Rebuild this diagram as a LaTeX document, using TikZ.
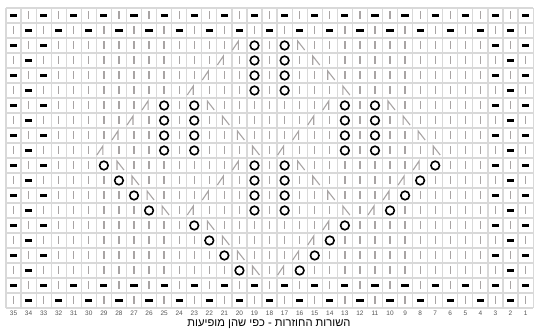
\documentclass[tikz,border=0pt]{standalone}
\usepackage{fontspec}
\setmainfont{Liberation Sans}
\newfontfamily\hebfont[Script=Hebrew]{Liberation Sans}
\TeXXeTstate=1
\definecolor{gridc}{HTML}{D9D9D9}
\definecolor{stc}{HTML}{A8A4A4}
\definecolor{numc}{HTML}{555555}
\tikzset{
  gridline/.style={draw=gridc, line width=1.2pt},
  knit/.style={draw=stc, line width=1.3pt},
  purl/.style={draw=black, line width=2.6pt},
  yo/.style={draw=black, line width=1.6pt},
  dec/.style={draw=stc, line width=1.1pt, line join=miter},
  num/.style={font=\fontsize{6.5}{7}\selectfont, text=numc, inner sep=0pt},
  heb/.style={font=\hebfont\fontsize{11.2}{12}\selectfont, text=black, inner sep=0pt}
}
\newcommand\knP[2]{\draw[knit] (#1,{#2-4}) -- (#1,{#2+4});}
\newcommand\knD[2]{\draw[purl] ({#1-3.6},#2) -- ({#1+3.6},#2);}
\newcommand\knO[2]{\draw[yo] (#1,#2) circle[radius=4.3];}
\newcommand\knL[2]{\draw[dec] ({#1-7},{#2+4.5}) -- ({#1-1},{#2-4.5}) -- ({#1-1},{#2+4.5});}
\newcommand\knR[2]{\draw[dec] ({#1-2},{#2+4.5}) -- ({#1-2},{#2-4.5}) -- ({#1+5},{#2+4.5});}
\newcommand\setsym[3]{\expandafter\gdef\csname kcell-#1-#2\endcsname{#3}}
\begin{document}
\begin{tikzpicture}[x=1pt,y=-1pt]
\useasboundingbox (0,0) rectangle (536,331);
\fill[white] (0,0) rectangle (536,331);
% special stitches
\foreach \k in {0,...,3}{
  \pgfmathtruncatemacro\ra{3+\k}
  \pgfmathtruncatemacro\rb{7+\k}
  \pgfmathtruncatemacro\rc{11+\k}
  \pgfmathtruncatemacro\rd{15+\k}
  % rows 3-6
  \pgfmathtruncatemacro\ca{20+\k}\setsym{\ra}{\ca}{\knL}
  \setsym{\ra}{19}{\knO}\setsym{\ra}{17}{\knO}
  \pgfmathtruncatemacro\ca{16-\k}\setsym{\ra}{\ca}{\knR}
  % rows 7-10
  \pgfmathtruncatemacro\ca{26+\k}\setsym{\rb}{\ca}{\knL}
  \setsym{\rb}{25}{\knO}\setsym{\rb}{23}{\knO}
  \pgfmathtruncatemacro\ca{22-\k}\setsym{\rb}{\ca}{\knR}
  \pgfmathtruncatemacro\ca{14+\k}\setsym{\rb}{\ca}{\knL}
  \setsym{\rb}{13}{\knO}\setsym{\rb}{11}{\knO}
  \pgfmathtruncatemacro\ca{10-\k}\setsym{\rb}{\ca}{\knR}
  % rows 11-14
  \pgfmathtruncatemacro\ca{29-\k}\setsym{\rc}{\ca}{\knO}
  \pgfmathtruncatemacro\ca{28-\k}\setsym{\rc}{\ca}{\knR}
  \pgfmathtruncatemacro\ca{20+\k}\setsym{\rc}{\ca}{\knL}
  \setsym{\rc}{19}{\knO}\setsym{\rc}{17}{\knO}
  \pgfmathtruncatemacro\ca{16-\k}\setsym{\rc}{\ca}{\knR}
  \pgfmathtruncatemacro\ca{8+\k}\setsym{\rc}{\ca}{\knL}
  \pgfmathtruncatemacro\ca{7+\k}\setsym{\rc}{\ca}{\knO}
  % rows 15-18
  \pgfmathtruncatemacro\ca{23-\k}\setsym{\rd}{\ca}{\knO}
  \pgfmathtruncatemacro\ca{22-\k}\setsym{\rd}{\ca}{\knR}
  \pgfmathtruncatemacro\ca{14+\k}\setsym{\rd}{\ca}{\knL}
  \pgfmathtruncatemacro\ca{13+\k}\setsym{\rd}{\ca}{\knO}
}
% grid
\foreach \i in {0,...,35} \draw[gridline] ({6+15.06*\i},8) -- ({6+15.06*\i},308);
\foreach \j in {0,...,20} \draw[gridline] (6,{8+15*\j}) -- (533.1,{8+15*\j});
% symbols
\foreach \r in {1,...,20}{
  \foreach \c in {1,...,35}{
    \pgfmathsetmacro\xx{6+15.06*(35-\c)+7.53}
    \pgfmathsetmacro\yy{8+15*(\r-1)+7.5}
    \pgfmathtruncatemacro\rib{(\r<3 || \r>18 || \c<4 || \c>32) ? 1 : 0}
    \pgfmathtruncatemacro\pp{mod(\r+\c,2)}
    \ifnum\rib=1
      \ifnum\pp=0 \knD{\xx}{\yy}\else \knP{\xx}{\yy}\fi
    \else
      \ifcsname kcell-\r-\c\endcsname
        \csname kcell-\r-\c\endcsname{\xx}{\yy}
      \else
        \knP{\xx}{\yy}
      \fi
    \fi
  }
}
% column numbers
\foreach \c in {1,...,35}{
  \node[num] (n\c) at ({6+15.06*(35-\c)+7.53},313) {\c};
}
\node[heb] (cap) at (269,324) {\beginR השורות החוזרות - כפי שהן מופיעות\endR};
\end{tikzpicture}
\end{document}
